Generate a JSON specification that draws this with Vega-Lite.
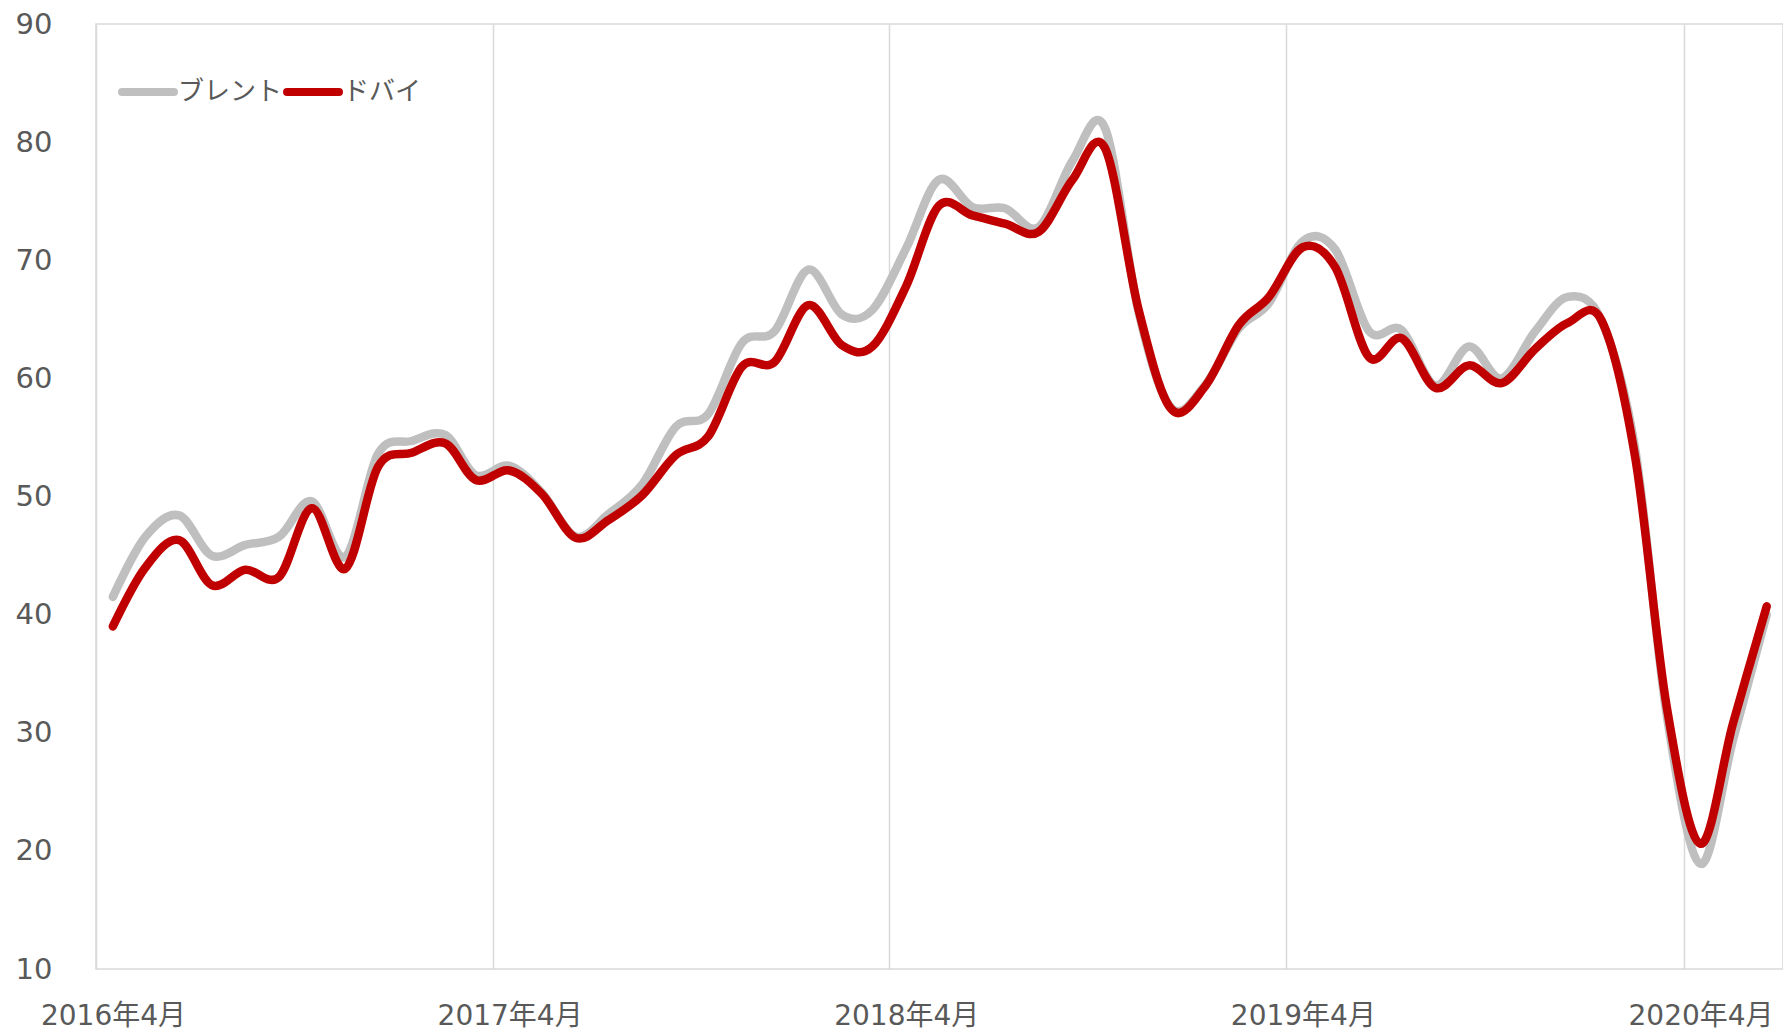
{
  "$schema": "https://vega.github.io/schema/vega-lite/v6.json",
  "autosize": {"type": "none"},
  "padding": {"left": 96, "top": 24, "right": 0, "bottom": 67},
  "width": 1687,
  "height": 945,
  "background": "white",
  "config": {
    "view": {"stroke": "#D9D9D9", "strokeWidth": 1.5},
    "font": "DejaVu Sans, Noto Sans CJK JP",
    "axis": {"labelFont": "DejaVu Sans, Noto Sans CJK JP", "labelColor": "#595959", "labelFontSize": 29},
    "legend": {"labelFont": "Noto Sans CJK JP", "labelColor": "#595959"}
  },
  "data": {"values": [
    {"month": "2016-04-01", "ブレント": 41.5, "ドバイ": 39.0},
    {"month": "2016-05-01", "ブレント": 46.6, "ドバイ": 44.0},
    {"month": "2016-06-01", "ブレント": 48.4, "ドバイ": 46.3},
    {"month": "2016-07-01", "ブレント": 45.0, "ドバイ": 42.5},
    {"month": "2016-08-01", "ブレント": 45.9, "ドバイ": 43.8},
    {"month": "2016-09-01", "ブレント": 46.6, "ドバイ": 43.2},
    {"month": "2016-10-01", "ブレント": 49.6, "ドバイ": 49.0},
    {"month": "2016-11-01", "ブレント": 44.9, "ドバイ": 43.9},
    {"month": "2016-12-01", "ブレント": 53.6, "ドバイ": 52.5},
    {"month": "2017-01-01", "ブレント": 54.7, "ドバイ": 53.7},
    {"month": "2017-02-01", "ブレント": 55.2, "ドバイ": 54.5},
    {"month": "2017-03-01", "ブレント": 51.8, "ドバイ": 51.4},
    {"month": "2017-04-01", "ブレント": 52.6, "ドバイ": 52.2},
    {"month": "2017-05-01", "ブレント": 50.3, "ドバイ": 50.2},
    {"month": "2017-06-01", "ブレント": 46.6, "ドバイ": 46.5},
    {"month": "2017-07-01", "ブレント": 48.5, "ドバイ": 48.0},
    {"month": "2017-08-01", "ブレント": 51.0, "ドバイ": 50.1},
    {"month": "2017-09-01", "ブレント": 55.9, "ドバイ": 53.5},
    {"month": "2017-10-01", "ブレント": 57.0, "ドバイ": 55.1},
    {"month": "2017-11-01", "ブレント": 63.0, "ドバイ": 61.0},
    {"month": "2017-12-01", "ブレント": 64.0, "ドバイ": 61.4},
    {"month": "2018-01-01", "ブレント": 69.2, "ドバイ": 66.2},
    {"month": "2018-02-01", "ブレント": 65.4, "ドバイ": 62.8},
    {"month": "2018-03-01", "ブレント": 65.8, "ドバイ": 62.7},
    {"month": "2018-04-01", "ブレント": 71.0, "ドバイ": 67.8},
    {"month": "2018-05-01", "ブレント": 76.8, "ドバイ": 74.6},
    {"month": "2018-06-01", "ブレント": 74.5, "ドバイ": 73.8},
    {"month": "2018-07-01", "ブレント": 74.4, "ドバイ": 73.1},
    {"month": "2018-08-01", "ブレント": 72.8, "ドバイ": 72.4},
    {"month": "2018-09-01", "ブレント": 78.4, "ドバイ": 76.8},
    {"month": "2018-10-01", "ブレント": 81.2, "ドバイ": 79.5},
    {"month": "2018-11-01", "ブレント": 65.6, "ドバイ": 65.8},
    {"month": "2018-12-01", "ブレント": 57.5, "ドバイ": 57.4},
    {"month": "2019-01-01", "ブレント": 59.4, "ドバイ": 59.3},
    {"month": "2019-02-01", "ブレント": 64.2, "ドバイ": 64.5},
    {"month": "2019-03-01", "ブレント": 66.4, "ドバイ": 66.9},
    {"month": "2019-04-01", "ブレント": 71.6, "ドバイ": 71.1},
    {"month": "2019-05-01", "ブレント": 70.9, "ドバイ": 69.4},
    {"month": "2019-06-01", "ブレント": 64.0, "ドバイ": 61.8},
    {"month": "2019-07-01", "ブレント": 64.1, "ドバイ": 63.4},
    {"month": "2019-08-01", "ブレント": 59.4, "ドバイ": 59.2},
    {"month": "2019-09-01", "ブレント": 62.7, "ドバイ": 61.1},
    {"month": "2019-10-01", "ブレント": 60.0, "ドバイ": 59.6},
    {"month": "2019-11-01", "ブレント": 64.0, "ドバイ": 62.5},
    {"month": "2019-12-01", "ブレント": 66.9, "ドバイ": 64.7},
    {"month": "2020-01-01", "ブレント": 64.9, "ドバイ": 64.9},
    {"month": "2020-02-01", "ブレント": 54.0, "ドバイ": 53.3},
    {"month": "2020-03-01", "ブレント": 31.5, "ドバイ": 32.2},
    {"month": "2020-04-01", "ブレント": 18.9, "ドバイ": 20.6},
    {"month": "2020-05-01", "ブレント": 29.4, "ドバイ": 30.8},
    {"month": "2020-06-01", "ブレント": 40.0, "ドバイ": 40.7}
  ]},
  "transform": [{"fold": ["ブレント", "ドバイ"], "as": ["series", "price"]}],
  "mark": {"type": "line", "interpolate": "cardinal", "strokeWidth": 8.5, "strokeCap": "round", "strokeJoin": "round"},
  "encoding": {
    "x": {
      "field": "month", "type": "temporal",
      "scale": {"type": "utc", "domain": [
        {"year": 2016, "month": 3, "date": 16, "hours": 12, "utc": true},
        {"year": 2020, "month": 6, "date": 16, "utc": true}
      ]},
      "axis": {
        "title": null,
        "values": [
          {"year": 2016, "month": 3, "date": 16, "hours": 12, "utc": true},
          {"year": 2017, "month": 3, "date": 16, "hours": 12, "utc": true},
          {"year": 2018, "month": 3, "date": 16, "hours": 12, "utc": true},
          {"year": 2019, "month": 3, "date": 16, "hours": 12, "utc": true},
          {"year": 2020, "month": 3, "date": 16, "hours": 12, "utc": true}
        ],
        "labelExpr": "utcFormat(datum.value + 20*86400000, '%Y年%-m月')",
        "labelOffset": 17,
        "labelPadding": 33,
        "labelFontSize": 28,
        "labelOverlap": false,
        "labelBound": false,
        "labelFlush": false,
        "labelAlign": "center",
        "labelBaseline": "top",
        "grid": true,
        "gridColor": "#D9D9D9",
        "gridWidth": 1.5,
        "ticks": false,
        "domain": false
      }
    },
    "y": {
      "field": "price", "type": "quantitative",
      "scale": {"domain": [10, 90], "nice": false, "zero": false},
      "axis": {
        "title": null,
        "values": [10, 20, 30, 40, 50, 60, 70, 80, 90],
        "grid": false,
        "ticks": false,
        "domain": false,
        "labelPadding": 44,
        "labelBaseline": "middle"
      }
    },
    "color": {
      "field": "series", "type": "nominal",
      "scale": {"domain": ["ブレント", "ドバイ"], "range": ["#BFBFBF", "#C00000"]},
      "legend": {
        "title": null,
        "orient": "none",
        "legendX": 22,
        "legendY": 38,
        "direction": "horizontal",
        "symbolType": "stroke",
        "symbolSize": 2700,
        "symbolStrokeWidth": 8,
        "labelFontSize": 26,
        "labelOffset": 0,
        "columnPadding": -12,
        "padding": 0,
        "labelLimit": 300,
        "encode": {"symbols": {"update": {"strokeCap": {"value": "round"}}}}
      }
    }
  }
}
